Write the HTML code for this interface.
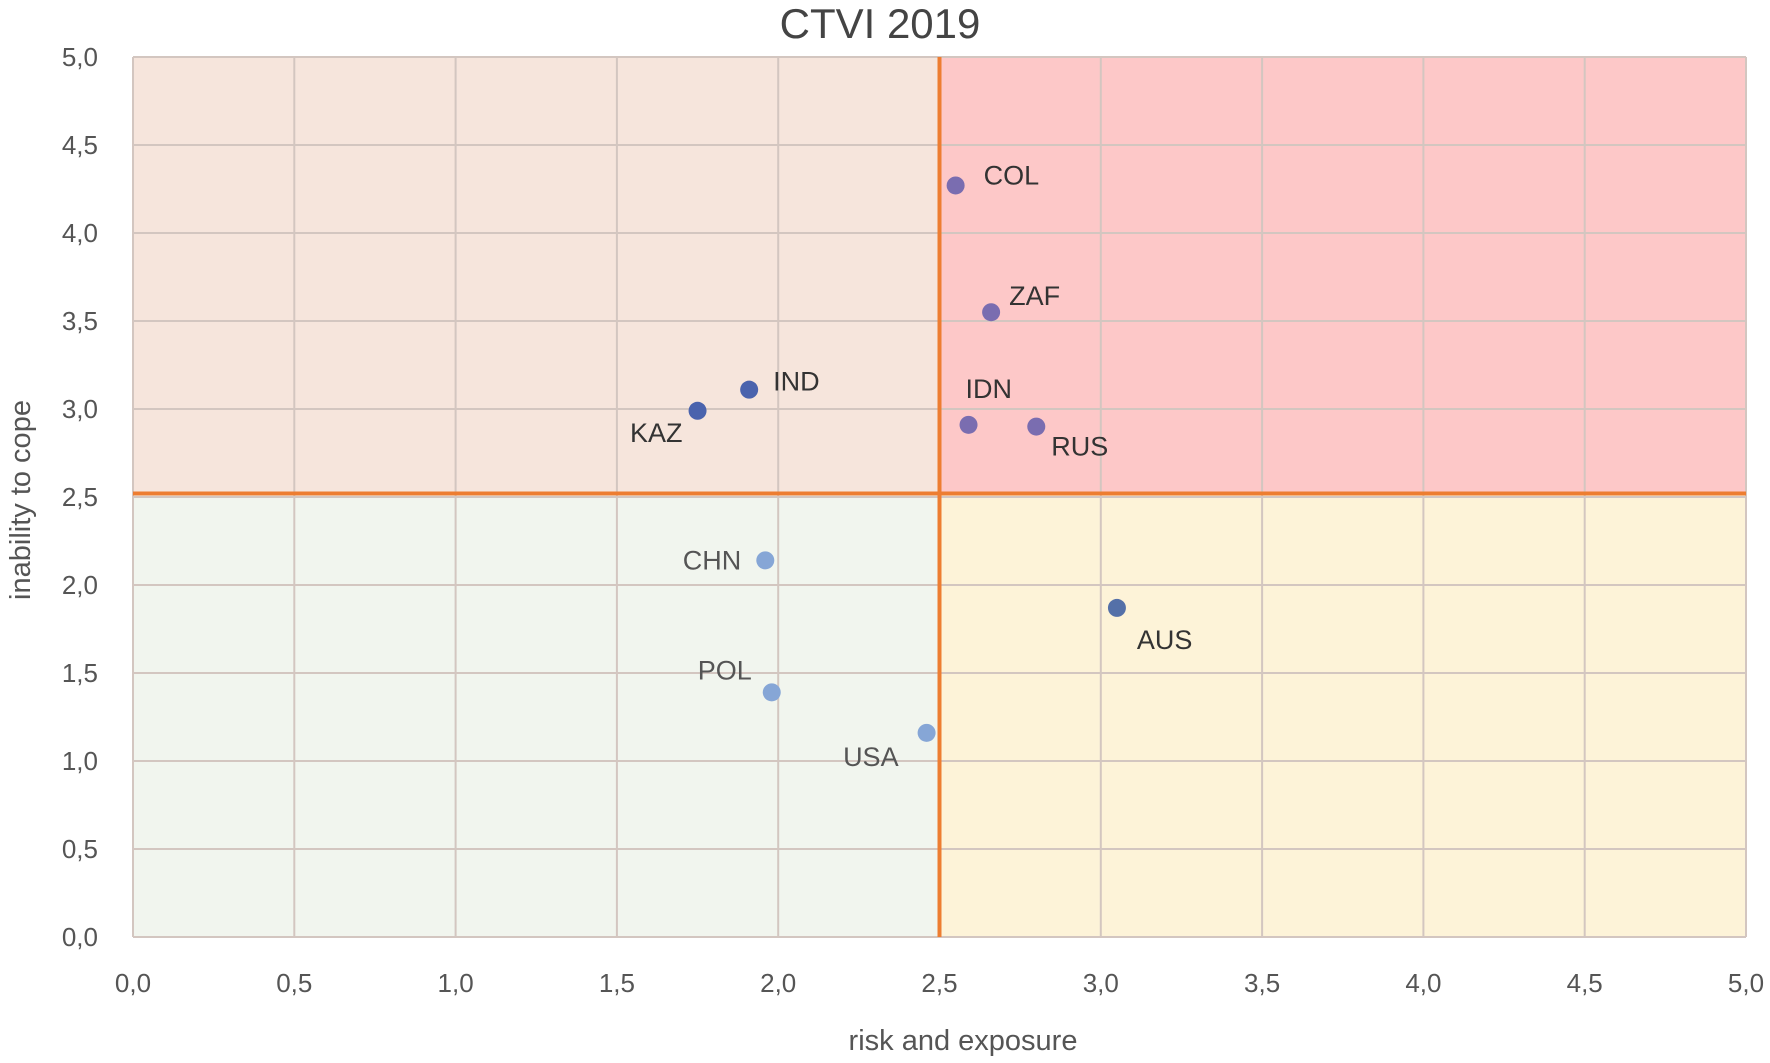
<!DOCTYPE html>
<html><head><meta charset="utf-8"><style>
html,body{margin:0;padding:0;background:#fff;}
svg{display:block;font-family:"Liberation Sans",sans-serif;}
</style></head><body>
<svg id="chart" width="1770" height="1063" viewBox="0 0 1770 1063" xmlns="http://www.w3.org/2000/svg">
<text x="880" y="38" text-anchor="middle" font-size="42" fill="#444">CTVI 2019</text>
<g id="quads"></g><g id="grid"></g><g id="divs"></g><g id="ticks"></g><g id="pts"></g>
<text x="963" y="1050" text-anchor="middle" font-size="29" fill="#555">risk and exposure</text>
<text transform="translate(30,500) rotate(-90)" text-anchor="middle" font-size="29" fill="#555">inability to cope</text>
</svg>
<script>
const names=["COL","ZAF","IND","KAZ","IDN","RUS","CHN","AUS","POL","USA"];
const xVals=[2.55,2.66,1.91,1.75,2.59,2.80,1.96,3.05,1.98,2.46];
const yVals=[4.27,3.55,3.11,2.99,2.91,2.90,2.14,1.87,1.39,1.16];
const tickVals=[0,0.5,1,1.5,2,2.5,3,3.5,4,4.5,5];
const tickLabels=["0,0","0,5","1,0","1,5","2,0","2,5","3,0","3,5","4,0","4,5","5,0"];
const xSplit=2.5, ySplit=2.52;
const L=133,R=1746,T=57,B=937;
const sx=v=>L+(v/5)*(R-L), sy=v=>B-(v/5)*(B-T);
const NS="http://www.w3.org/2000/svg";
function mk(tag,attrs,parent,txt){const e=document.createElementNS(NS,tag);for(const k in attrs)e.setAttribute(k,attrs[k]);if(txt!==undefined)e.textContent=txt;document.getElementById(parent).appendChild(e);return e;}
const quads=[
 ["quadrant-high-coping-low-risk",0,xSplit,ySplit,5,"#f6e5dc"],
 ["quadrant-high-coping-high-risk",xSplit,5,ySplit,5,"#fdc8c8"],
 ["quadrant-low-coping-low-risk",0,xSplit,0,ySplit,"#f1f5ee"],
 ["quadrant-low-coping-high-risk",xSplit,5,0,ySplit,"#fdf3d8"]];
quads.forEach(q=>{
 const r=mk("rect",{x:sx(q[1]),y:sy(q[4]),width:sx(q[2])-sx(q[1]),height:sy(q[3])-sy(q[4]),fill:q[5]},"quads");
 
 
});
tickVals.forEach((v,i)=>{
 const gx=mk("line",{x1:sx(v),x2:sx(v),y1:T,y2:B,stroke:"#d3c6c0","stroke-width":2},"grid");
 
 
 const gy=mk("line",{x1:L,x2:R,y1:sy(v),y2:sy(v),stroke:"#d3c6c0","stroke-width":2},"grid");
 
 
 const tx=mk("text",{x:sx(v),y:992,"text-anchor":"middle","font-size":26,fill:"#555"},"ticks",tickLabels[i]);
 
 
 const ty=mk("text",{x:98,y:sy(v)+9,"text-anchor":"end","font-size":26,fill:"#555"},"ticks",tickLabels[i]);
 
 
});
const vl=mk("line",{x1:sx(xSplit),x2:sx(xSplit),y1:T,y2:B,stroke:"#ed7d31","stroke-width":4},"divs");


const hl=mk("line",{x1:L,x2:R,y1:sy(ySplit),y2:sy(ySplit),stroke:"#ed7d31","stroke-width":4},"divs");


const colors={COL:"#7a6db0",ZAF:"#7a6db0",IDN:"#7a6db0",RUS:"#7a6db0",IND:"#4a63ad",KAZ:"#4a63ad",AUS:"#5470a8",CHN:"#86a6d6",POL:"#86a6d6",USA:"#86a6d6"};
const lblOff={COL:[28,-10,"start"],ZAF:[18,-16,"start"],IND:[24,-8,"start"],KAZ:[-15,22,"end"],IDN:[-3,-36,"start"],RUS:[15,20,"start"],CHN:[-24,0,"end"],AUS:[20,32,"start"],POL:[-20,-22,"end"],USA:[-28,24,"end"]};
const lblCol={CHN:"#555",POL:"#555",USA:"#555"};
names.forEach((n,i)=>{
 const c=mk("circle",{cx:sx(xVals[i]),cy:sy(yVals[i]),r:9,fill:colors[n]},"pts");
 
 
 const o=lblOff[n];
 const t=mk("text",{x:sx(xVals[i])+o[0],y:sy(yVals[i])+o[1]+9,"text-anchor":o[2],"font-size":27,fill:lblCol[n]||"#333"},"pts",n);
 
 
});
</script>
</body></html>
